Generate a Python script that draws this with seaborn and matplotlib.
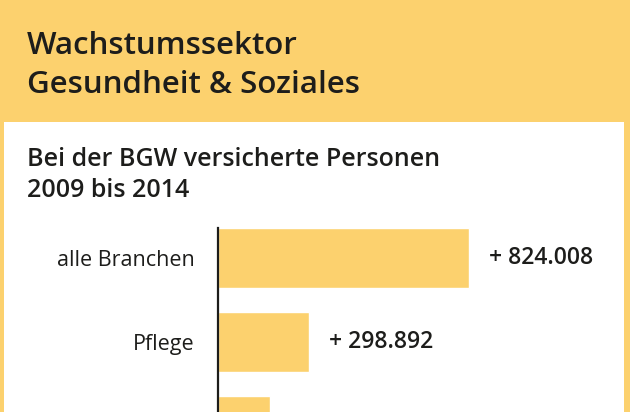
import matplotlib
matplotlib.use("Agg")
import matplotlib.pyplot as plt
import pandas as pd
import seaborn as sns
from matplotlib.patches import Rectangle

# data (third bar is cut off at the bottom)
branchen = ["alle Branchen", "Pflege", "weitere"]
zuwachs = [824008, 298892, 170000]

title_lines = ["Wachstumssektor", "Gesundheit & Soziales"]
subtitle_lines = ["Bei der BGW versicherte Personen", "2009 bis 2014"]

YELLOW = "#FCD16E"
INK = "#1d1d1b"
W, H = 630, 412

sns.set_theme(style="white")
plt.rcParams["font.family"] = ["Open Sans", "DejaVu Sans"]

df = pd.DataFrame({"branche": branchen, "zuwachs": zuwachs})

fig = plt.figure(figsize=(W / 100, H / 100), dpi=100, facecolor=YELLOW)

# white panel below the header
fig.patches.append(Rectangle((4 / W, 0), 620 / W, 1 - 122 / H,
                             transform=fig.transFigure, facecolor="white",
                             edgecolor="none", zorder=-5))

for i, line in enumerate(title_lines):
    fig.text(27 / W, 1 - (54 + 39 * i) / H, line, fontsize=22.5, color=INK,
             va="baseline", ha="left", fontweight="semibold")
for i, line in enumerate(subtitle_lines):
    fig.text(27 / W, 1 - (166 + 31 * i) / H, line, fontsize=18, color=INK,
             va="baseline", ha="left", fontweight="semibold")

# axes: left spine at x=218 px, top at bar1 top (228 px)
ax = fig.add_axes([218 / W, 0, (624 - 218) / W, 1 - 228 / H])
ax.set_facecolor("none")
ax.set_zorder(2)
sns.barplot(data=df, x="zuwachs", y="branche", orient="h", color=YELLOW,
            width=60 / 84, saturation=1, ax=ax)

px_per_unit = 251 / zuwachs[0]
ax.set_xlim(0, 406 / px_per_unit)
half = 0.5 * 60 / 84
ax.set_ylim(-half + 184 / 84, -half)

ax.set_xlabel("")
ax.set_ylabel("")
ax.set_xticks([])
sns.despine(ax=ax, top=True, right=True, bottom=True, left=False)
ax.spines["left"].set_color(INK)
ax.spines["left"].set_linewidth(1.6)
ax.tick_params(axis="y", length=0, pad=17, labelsize=15.5, labelcolor=INK)

labels = ["+ " + f"{v:,}".replace(",", ".") for v in zuwachs]
ax.bar_label(ax.containers[0], labels=labels, padding=14.5, fontsize=16.5,
             color=INK, fontweight="semibold")

fig.savefig("out.png", dpi=100, facecolor=YELLOW)
